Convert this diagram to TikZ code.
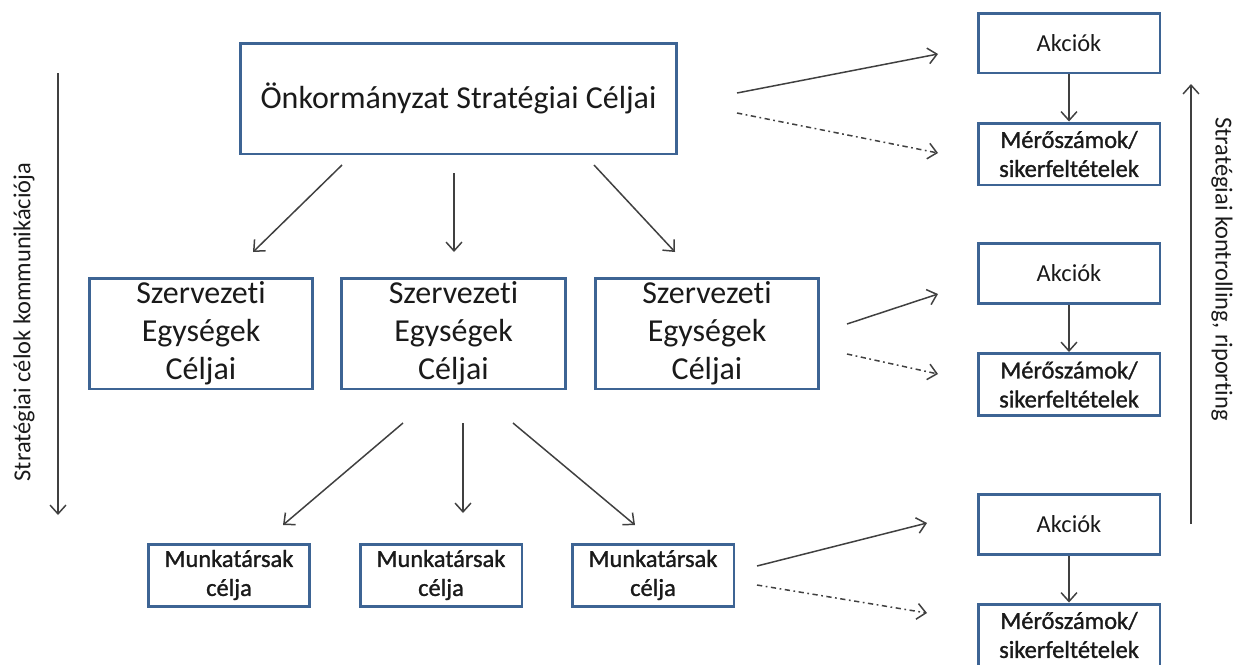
\documentclass[tikz,border=0pt]{standalone}
\usepackage{fontspec}
\setmainfont{Carlito}[Ligatures=NoCommon]
\newfontfamily\semibfont{Carlito}[Ligatures=NoCommon, FakeBold=1.2]
\usetikzlibrary{arrows.meta}
\definecolor{boxblue}{HTML}{3D6494}
\definecolor{arrowgray}{HTML}{404040}
\definecolor{txt}{HTML}{1A1A1A}
\begin{document}
\begin{tikzpicture}[x=0.02cm,y=-0.02cm,
  box/.style={draw=boxblue, line width=1.7pt, fill=white, align=center, text=txt, inner sep=0pt},
  bigbox/.style={box, font=\fontsize{18.2}{21.5}\selectfont},
  smallbox/.style={box, font=\fontsize{13.9}{16}\selectfont},
  boldbox/.style={box, font=\semibfont\fontsize{13.9}{16.5}\selectfont},
  conn/.style={draw=arrowgray, line width=0.85pt, -{Straight Barb[length=5pt,width=9pt]}},
  dconn/.style={conn, dash pattern=on 3pt off 2pt on 1pt off 2pt},
  sidelabel/.style={text=txt, font=\fontsize{13.9}{16}\selectfont, inner sep=0pt}]
\useasboundingbox (0,0) rectangle (1246,664);

% top box
\node[bigbox, minimum width=8.74cm, minimum height=2.22cm] (top) at (458.5,98.5) {Önkormányzat Stratégiai Céljai};

% organisational units
\node[bigbox, minimum width=4.48cm, minimum height=2.22cm] (sz1) at (201,333.5) {Szervezeti\\Egységek\\Céljai};
\node[bigbox, minimum width=4.48cm, minimum height=2.22cm] (sz2) at (453.5,333.5) {Szervezeti\\Egységek\\Céljai};
\node[bigbox, minimum width=4.48cm, minimum height=2.22cm] (sz3) at (707,333.5) {Szervezeti\\Egységek\\Céljai};

% staff
\node[boldbox, minimum width=3.24cm, minimum height=1.24cm] (m1) at (229,575) {Munkatársak\\célja};
\node[boldbox, minimum width=3.24cm, minimum height=1.24cm] (m2) at (441,575) {Munkatársak\\célja};
\node[boldbox, minimum width=3.24cm, minimum height=1.24cm] (m3) at (653,575) {Munkatársak\\célja};

% right column
\node[smallbox, minimum width=3.64cm, minimum height=1.2cm] (a1) at (1069,43) {Akciók};
\node[boldbox, minimum width=3.64cm, minimum height=1.24cm] (k1) at (1069,154) {Mérőszámok/\\sikerfeltételek};
\node[smallbox, minimum width=3.64cm, minimum height=1.2cm] (a2) at (1069,273.5) {Akciók};
\node[boldbox, minimum width=3.64cm, minimum height=1.24cm] (k2) at (1069,384.5) {Mérőszámok/\\sikerfeltételek};
\node[smallbox, minimum width=3.64cm, minimum height=1.2cm] (a3) at (1069,524.5) {Akciók};
\node[boldbox, minimum width=3.64cm, minimum height=1.24cm] (k3) at (1069,635) {Mérőszámok/\\sikerfeltételek};

\draw[conn] (a1) -- (k1);
\draw[conn] (a2) -- (k2);
\draw[conn] (a3) -- (k3);

% coordinates for free arrow ends
\coordinate (t1s) at (342,165); \coordinate (t1e) at (253,252);
\coordinate (t2s) at (454,173); \coordinate (t2e) at (454,252);
\coordinate (t3s) at (594,165); \coordinate (t3e) at (675,252);
\draw[conn] (t1s) -- (t1e);
\draw[conn] (t2s) -- (t2e);
\draw[conn] (t3s) -- (t3e);

\coordinate (s1s) at (403,423); \coordinate (s1e) at (283,525);
\coordinate (s2s) at (463,423); \coordinate (s2e) at (463,513);
\coordinate (s3s) at (513,423); \coordinate (s3e) at (635,525);
\draw[conn] (s1s) -- (s1e);
\draw[conn] (s2s) -- (s2e);
\draw[conn] (s3s) -- (s3e);

% right side arrows
\coordinate (r1s) at (737,93);  \coordinate (r1e) at (938,54);
\coordinate (r1ds) at (737,113); \coordinate (r1de) at (938,153);
\coordinate (r2s) at (847,324); \coordinate (r2e) at (938,294);
\coordinate (r2ds) at (847,354); \coordinate (r2de) at (938,374);
\coordinate (r3s) at (757,566); \coordinate (r3e) at (927,523);
\coordinate (r3ds) at (757,585); \coordinate (r3de) at (927,613);
\draw[conn] (r1s) -- (r1e);
\draw[dconn] (r1ds) -- (r1de);
\draw[conn] (r2s) -- (r2e);
\draw[dconn] (r2ds) -- (r2de);
\draw[conn] (r3s) -- (r3e);
\draw[dconn] (r3ds) -- (r3de);

% side arrows
\coordinate (ls) at (58,73); \coordinate (le) at (58,515);
\draw[conn] (ls) -- (le);
\node[sidelabel, rotate=90] (ll) at (24,322) {Stratégiai célok kommunikációja};

\coordinate (rs) at (1191,524); \coordinate (re) at (1191,84);
\draw[conn] (rs) -- (re);
\node[sidelabel, rotate=-90] (rl) at (1222,269) {Stratégiai kontrolling, riporting};
\end{tikzpicture}
\end{document}
